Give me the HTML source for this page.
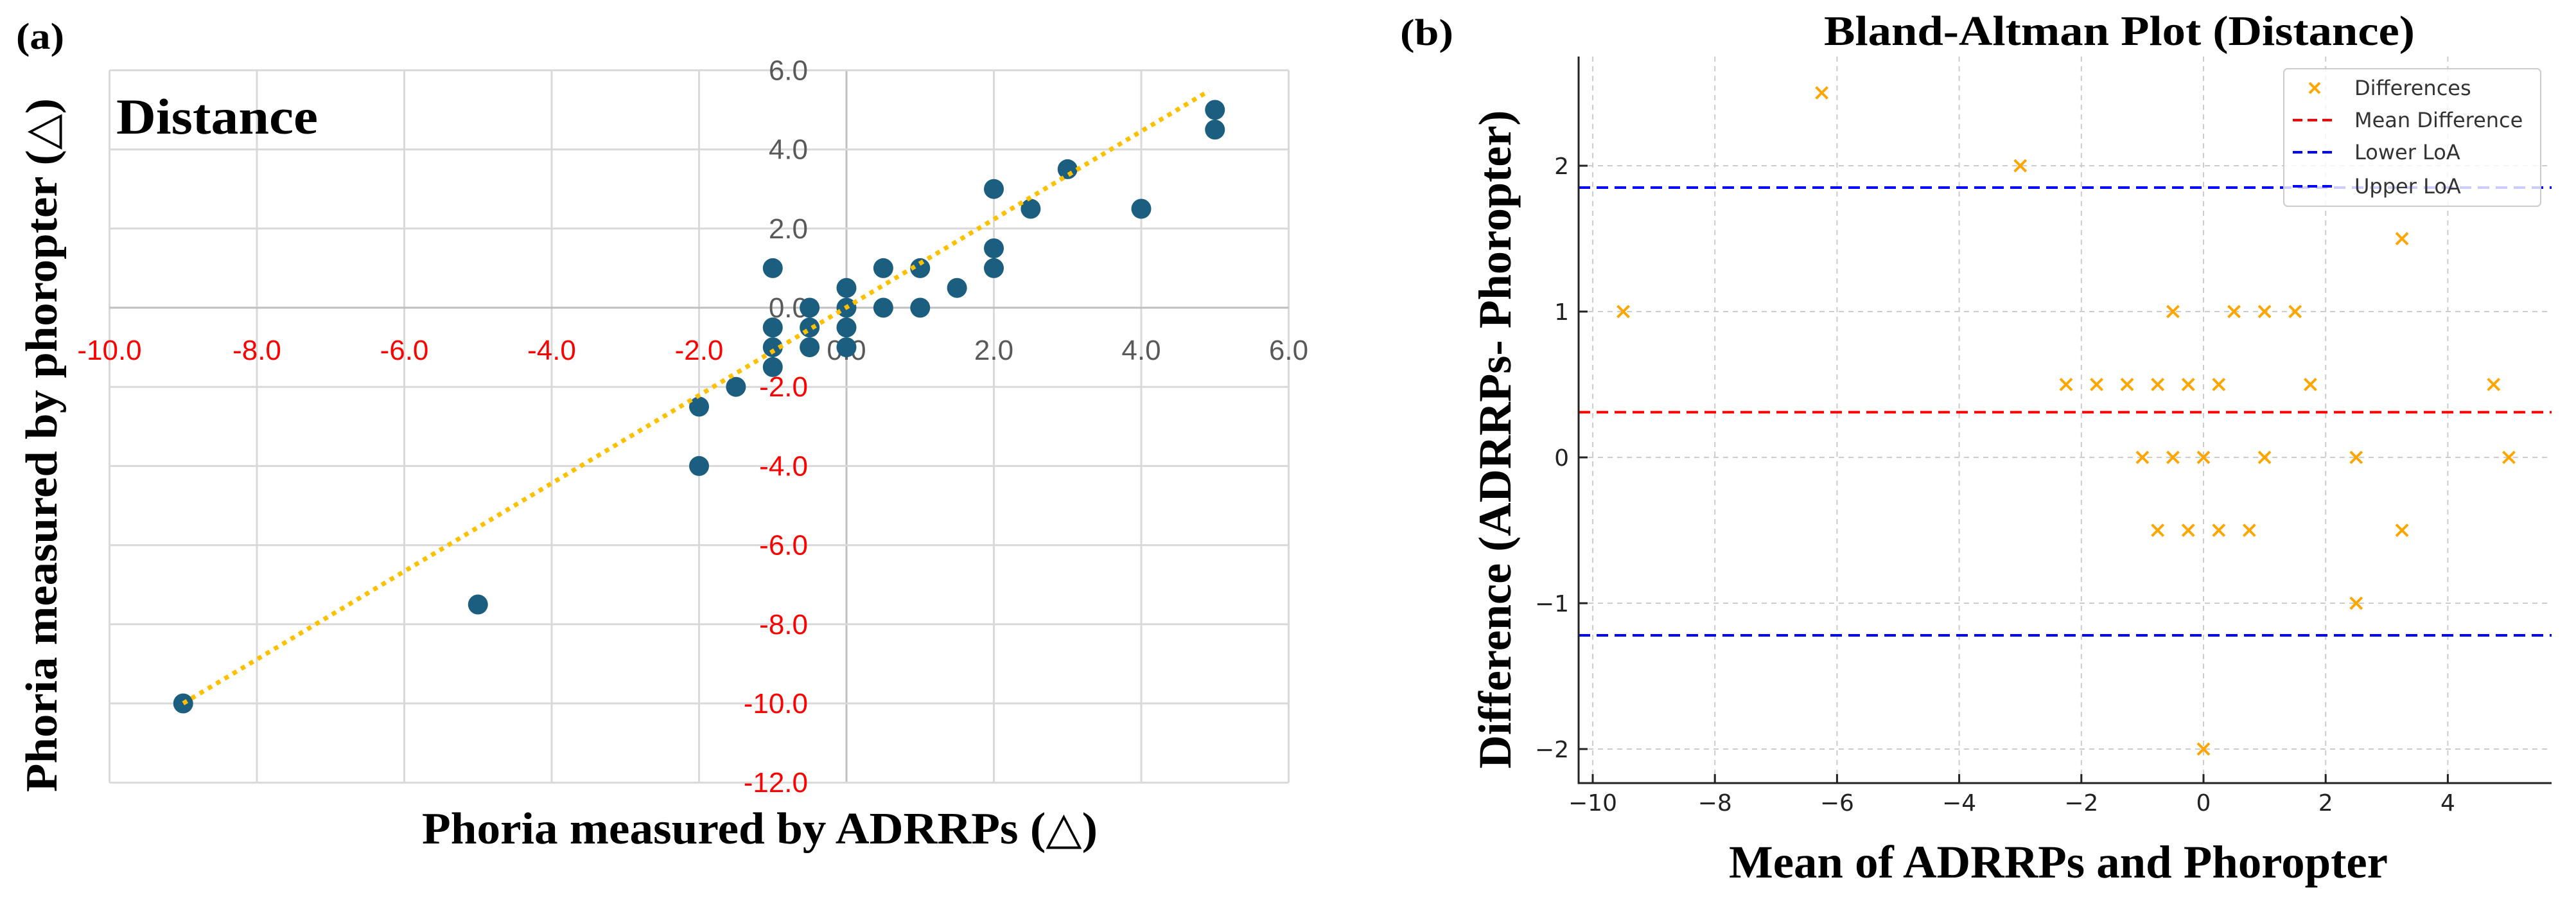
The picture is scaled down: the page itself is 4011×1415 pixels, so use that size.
<!DOCTYPE html>
<html><head><meta charset="utf-8"><style>
html,body{margin:0;padding:0;background:#fff;}
svg{display:block;}
</style></head><body>
<svg id="fig" width="4011" height="1415" viewBox="0 0 4011 1415" xmlns="http://www.w3.org/2000/svg">
<g id="left"></g>
<g id="right"></g>
</svg>
<script>
// ---- Panel (a) data ----
const aX = [-9,-5,-2,-2,-1.5,-1,-1,-1,-1,-0.5,-0.5,-0.5,0,0,0,0,0.5,0.5,1,1,1.5,2,2,2,2.5,3,4,5,5];
const aY = [-10,-7.5,-2.5,-4,-2,1,-0.5,-1,-1.5,0,-0.5,-1,0.5,0,-0.5,-1,1,0,1,0,0.5,3,1.5,1,2.5,3.5,2.5,5,4.5];
const aXTicks = [-10,-8,-6,-4,-2,0,2,4,6];
const aYTicks = [6,4,2,0,-2,-4,-6,-8,-10,-12];
const trendX = [-9, 4.92];
const trendCoef = [0.01, 1.112];
// ---- Panel (b) data ----
const bX = [-9.5,-6.25,-3,-2.25,-1.75,-1.25,-0.75,-0.25,0.25,1.75,4.75,-0.5,0.5,1,1.5,3.25,-1,-0.5,0,1,2.5,5,-0.75,-0.25,0.25,0.75,3.25,2.5,0];
const bY = [1,2.5,2,0.5,0.5,0.5,0.5,0.5,0.5,0.5,0.5,1,1,1,1,1.5,0,0,0,0,0,0,-0.5,-0.5,-0.5,-0.5,-0.5,-1,-2];
const bXTicks = [-10,-8,-6,-4,-2,0,2,4];
const bYTicks = [-2,-1,0,1,2];
const meanDiff = [0.31];
const loaLower = [-1.22];
const loaUpper = [1.85];
const legendLabels = ["Differences","Mean Difference","Lower LoA","Upper LoA"];

const NS="http://www.w3.org/2000/svg";
function mk(parent, tag, attrs, text){
  const e=document.createElementNS(NS,tag);
  for(const k in attrs) e.setAttribute(k, attrs[k]);
  if(text!==undefined) e.textContent=text;
  parent.appendChild(e); return e;
}
const fmt1 = v => v.toFixed(1);

// ================= Panel (a) =================
const L=document.getElementById('left');
const ax = v => 1318 + v*114.75;
const ay = v => 479 - v*61.6;
aXTicks.forEach(t=>{
  const g=mk(L,'line',{x1:ax(t),x2:ax(t),y1:ay(6),y2:ay(-12),stroke:t===0?'#bfbfbf':'#d9d9d9','stroke-width':3});
  
  
});
aYTicks.forEach(t=>{
  const g=mk(L,'line',{x1:ax(-10),x2:ax(6),y1:ay(t),y2:ay(t),stroke:t===0?'#bfbfbf':'#d9d9d9','stroke-width':3});
  
  
});
aXTicks.forEach(t=>{
  if(t===6){}
  const tx=mk(L,'text',{x:ax(t),y:560,'text-anchor':'middle','font-family':'Liberation Sans, sans-serif','font-size':44,fill:t<0?'#ff0000':'#595959'},fmt1(t));
  
  
});
aYTicks.forEach(t=>{
  const tx=mk(L,'text',{x:1258,y:ay(t)+15,'text-anchor':'end','font-family':'Liberation Sans, sans-serif','font-size':44,fill:t<0?'#ff0000':'#595959'},fmt1(t));
  
  
});
aX.forEach((x,i)=>{
  const c=mk(L,'circle',{cx:ax(x),cy:ay(aY[i]),r:15.5,fill:'#1b5e7f'});
  
  
});
{
  const tl=mk(L,'line',{x1:ax(trendX[0]),y1:ay(trendCoef[0]+trendCoef[1]*trendX[0]),x2:ax(trendX[1]),y2:ay(trendCoef[0]+trendCoef[1]*trendX[1]),stroke:'#ffc000','stroke-width':7,'stroke-dasharray':'7 8'});
  
  
}
{
  let t=mk(L,'text',{x:181,y:208,'font-family':'Liberation Serif, serif','font-weight':'bold','font-size':78,textLength:314,lengthAdjust:'spacingAndGlyphs'},'Distance');
   
  t=mk(L,'text',{x:25,y:76,'font-family':'Liberation Serif, serif','font-weight':'bold','font-size':58,textLength:75,lengthAdjust:'spacingAndGlyphs'},'(a)');
   
  t=mk(L,'text',{x:1183,y:1313,'text-anchor':'middle','font-family':'Liberation Serif, "DejaVu Sans", serif','font-weight':'bold','font-size':70,textLength:1052,lengthAdjust:'spacingAndGlyphs'},'Phoria measured by ADRRPs (△)');
   
  t=mk(L,'text',{x:0,y:0,transform:'translate(88,693) rotate(-90)','text-anchor':'middle','font-family':'Liberation Serif, "DejaVu Sans", serif','font-weight':'bold','font-size':70,textLength:1080,lengthAdjust:'spacingAndGlyphs'},'Phoria measured by phoropter (△)');
   
}

// ================= Panel (b) =================
const R=document.getElementById('right');
const bx = v => 2480 + (v+10)*95.1;
const by = v => 712 - v*227;
const LEFT=2458, RIGHT=3973, TOP=88, BOT=1219;
bXTicks.forEach(t=>{
  const g=mk(R,'line',{x1:bx(t),x2:bx(t),y1:TOP,y2:BOT,stroke:'#cccccc','stroke-width':2,'stroke-dasharray':'8 7'});
   
  const tk=mk(R,'line',{x1:bx(t),x2:bx(t),y1:BOT,y2:BOT-14,stroke:'#222','stroke-width':3});
   
  const tx=mk(R,'text',{x:bx(t),y:1262,'text-anchor':'middle','font-family':'DejaVu Sans, sans-serif','font-size':36,fill:'#222'},(t<0?'\u2212':'')+Math.abs(t));
   
});
bYTicks.forEach(t=>{
  const g=mk(R,'line',{x1:LEFT,x2:RIGHT,y1:by(t),y2:by(t),stroke:'#cccccc','stroke-width':2,'stroke-dasharray':'8 7'});
   
  const tk=mk(R,'line',{x1:LEFT,x2:LEFT+14,y1:by(t),y2:by(t),stroke:'#222','stroke-width':3});
   
  const tx=mk(R,'text',{x:2443,y:by(t)+13,'text-anchor':'end','font-family':'DejaVu Sans, sans-serif','font-size':36,fill:'#222'},(t<0?'\u2212':'')+Math.abs(t));
   
});
function hline(v,col,name){
  const l=mk(R,'line',{x1:LEFT,x2:RIGHT,y1:by(v),y2:by(v),stroke:col,'stroke-width':4,'stroke-dasharray':'18 10'});
   
}
hline(meanDiff[0],'#ff0000','mean-difference-line');
hline(loaLower[0],'#0000ff','lower-loa-line');
hline(loaUpper[0],'#0000ff','upper-loa-line');
bX.forEach((x,i)=>{
  const cx=bx(x), cy=by(bY[i]), s=9;
  const p=mk(R,'path',{d:`M${cx-s} ${cy-s}L${cx+s} ${cy+s}M${cx-s} ${cy+s}L${cx+s} ${cy-s}`,stroke:'#ffa500','stroke-width':4,fill:'none'});
   
});
{
  const sp=mk(R,'path',{d:`M${LEFT} ${TOP}V${BOT}H${RIGHT}`,stroke:'#222','stroke-width':3,fill:'none'});
   
}
// legend
{
  const lg=mk(R,'g',{});
   
  mk(lg,'rect',{x:3556,y:107,width:400,height:214,rx:6,fill:'#ffffff','fill-opacity':0.8,stroke:'#cccccc','stroke-width':2});
  const ys=[137,187,237,290];
  const cols=['#ffa500','#ff0000','#0000ff','#0000ff'];
  legendLabels.forEach((lab,i)=>{
    const e=mk(lg,'g',{});
     
    if(i===0){
      const s=8,cx=3604,cy=ys[i];
      mk(e,'path',{d:`M${cx-s} ${cy-s}L${cx+s} ${cy+s}M${cx-s} ${cy+s}L${cx+s} ${cy-s}`,stroke:cols[i],'stroke-width':4,fill:'none'});
    } else {
      mk(e,'line',{x1:3570,x2:3638,y1:ys[i],y2:ys[i],stroke:cols[i],'stroke-width':4,'stroke-dasharray':'15 8'});
    }
    mk(e,'text',{x:3666,y:ys[i]+11,'font-family':'DejaVu Sans, sans-serif','font-size':32,fill:'#333'},lab);
  });
}
{
  let t=mk(R,'text',{x:3300,y:70,'text-anchor':'middle','font-family':'Liberation Serif, serif','font-weight':'bold','font-size':66,textLength:920,lengthAdjust:'spacingAndGlyphs'},'Bland-Altman Plot (Distance)');
   
  t=mk(R,'text',{x:2180,y:70,'font-family':'Liberation Serif, serif','font-weight':'bold','font-size':58,textLength:83,lengthAdjust:'spacingAndGlyphs'},'(b)');
   
  t=mk(R,'text',{x:3205,y:1366,'text-anchor':'middle','font-family':'Liberation Serif, serif','font-weight':'bold','font-size':72,textLength:1026,lengthAdjust:'spacingAndGlyphs'},'Mean of ADRRPs and Phoropter');
   
  t=mk(R,'text',{x:0,y:0,transform:'translate(2352,684) rotate(-90)','text-anchor':'middle','font-family':'Liberation Serif, serif','font-weight':'bold','font-size':72,textLength:1025,lengthAdjust:'spacingAndGlyphs'},'Difference (ADRRPs- Phoropter)');
   
}
</script>
</body></html>
